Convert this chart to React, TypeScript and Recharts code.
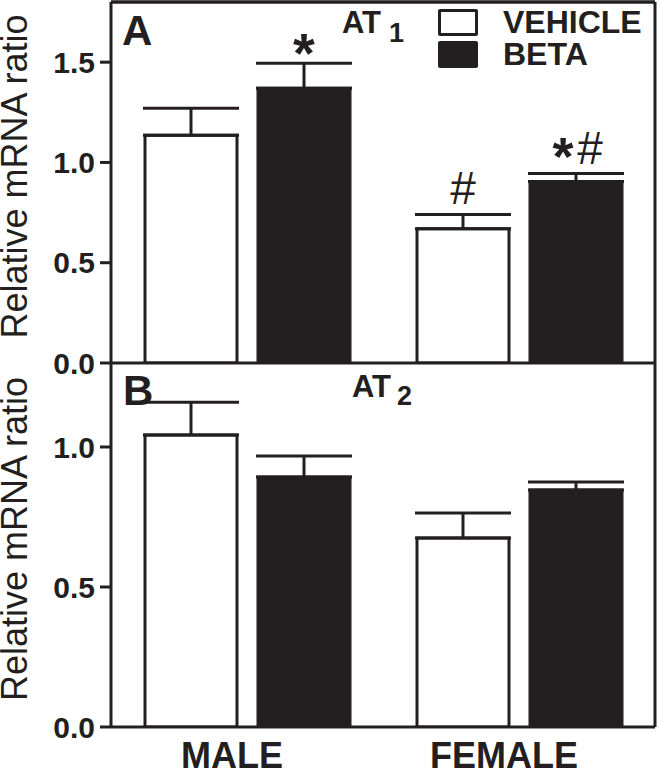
import { ComposedChart, Bar, Line, XAxis, YAxis, ErrorBar, LabelList, Legend, ReferenceLine } from 'recharts'

const groups = ['MALE', 'FEMALE']

// AT1 (panel A)
const at1Vehicle = [1.135, 0.67]
const at1VehicleErr = [0.135, 0.07]
const at1Beta = [1.37, 0.905]
const at1BetaErr = [0.125, 0.04]
const at1VehicleNote = ['', '#']
const at1BetaNote = ['*', '*#']
const at1Ticks = [0, 0.5, 1, 1.5]

// AT2 (panel B)
const at2Vehicle = [1.043, 0.675]
const at2VehicleErr = [0.117, 0.089]
const at2Beta = [0.893, 0.846]
const at2BetaErr = [0.075, 0.029]
const at2VehicleNote = ['', '']
const at2BetaNote = ['', '']
const at2Ticks = [0, 0.5, 1]

const legendOrder = ['VEHICLE', 'BETA']

const FONT = '"Liberation Sans", Arial, Helvetica, sans-serif'
const INK = '#231f20'

function buildRows(veh: number[], vehErr: number[], beta: number[], betaErr: number[], vehNote: string[], betaNote: string[]) {
  return groups.map((group, i) => ({
    group,
    vehicle: veh[i],
    vehicleErr: [0, vehErr[i]],
    vehicleCap: vehErr[i],
    vehicleNote: vehNote[i],
    beta: beta[i],
    betaErr: [0, betaErr[i]],
    betaCap: betaErr[i],
    betaNote: betaNote[i],
  }))
}

const at1Rows = buildRows(at1Vehicle, at1VehicleErr, at1Beta, at1BetaErr, at1VehicleNote, at1BetaNote)
const at2Rows = buildRows(at2Vehicle, at2VehicleErr, at2Beta, at2BetaErr, at2VehicleNote, at2BetaNote)

function NoteLabel(props: any) {
  const { x, y, width, value } = props
  if (!value) return null
  const cx = x + width / 2
  if (value === '*') {
    return (
      <text x={cx} y={y + 9} textAnchor="middle" fontSize={56} fontWeight="bold" fill={INK} fontFamily={FONT}>
        *
      </text>
    )
  }
  if (value === '#') {
    return (
      <text x={cx} y={y - 11} textAnchor="middle" fontSize={46} fill={INK} fontFamily={FONT}>
        #
      </text>
    )
  }
  return (
    <g fill={INK} fontFamily={FONT}>
      <text x={cx - 13} y={y + 2} textAnchor="middle" fontSize={54} fontWeight="bold">
        *
      </text>
      <text x={cx + 14} y={y - 9} textAnchor="middle" fontSize={46}>
        #
      </text>
    </g>
  )
}

function AxisTitle(props: any) {
  const { viewBox } = props
  const cx = viewBox.x + 27
  const cy = viewBox.y + viewBox.height / 2 - 6
  return (
    <text x={cx} y={cy} transform={`rotate(-90 ${cx} ${cy})`} textAnchor="middle" fontSize={36} fontFamily={FONT} fill={INK}>
      Relative mRNA ratio
    </text>
  )
}

function GroupTick(props: any) {
  const { x, y, payload } = props
  return (
    <text x={x - 15} y={y + 41} textAnchor="middle" fontSize={36} fontWeight="bold" fontFamily={FONT} fill={INK}>
      {payload.value}
    </text>
  )
}

function LegendBox(props: any) {
  const entries = legendOrder
    .map((name) => (props.payload || []).find((e: any) => e.value === name))
    .filter(Boolean)
  return (
    <div style={{ fontFamily: FONT }}>
      {entries.map((entry: any) => (
        <div key={entry.value} style={{ display: 'flex', alignItems: 'center', height: 32 }}>
          <div
            style={{
              width: 34,
              height: 21,
              border: `3px solid ${INK}`,
              borderRadius: 2,
              background: entry.color,
              marginRight: 25,
            }}
          />
          <span style={{ fontSize: 32, fontWeight: 'bold', color: INK, lineHeight: '29px' }}>{entry.value}</span>
        </div>
      ))}
    </div>
  )
}

interface PanelProps {
  rows: any[]
  domain: [number, number]
  ticks: number[]
  top: number
  height: number
  margin: { top: number; right: number; bottom: number; left: number }
  bottomPanel?: boolean
}

function Panel({ rows, domain, ticks, top, height, margin, bottomPanel }: PanelProps) {
  const axisLine = { stroke: INK, strokeWidth: 3 }
  return (
    <div style={{ position: 'absolute', top, left: 0 }}>
      <ComposedChart width={659} height={height} data={rows} margin={margin} barSize={92} barGap={21}>
        <XAxis
          dataKey="group"
          axisLine={axisLine}
          tickLine={false}
          tickSize={0}
          tickMargin={0}
          height={bottomPanel ? 44 : 1}
          tick={bottomPanel ? <GroupTick /> : false}
          interval={0}
        />
        <XAxis xAxisId="top" dataKey="group" orientation="top" height={1} tick={false} tickLine={false} axisLine={bottomPanel ? false : axisLine} />
        <YAxis
          type="number"
          domain={domain}
          ticks={ticks}
          allowDataOverflow
          width={111}
          axisLine={axisLine}
          tickLine={{ stroke: INK, strokeWidth: 3 }}
          tickSize={11}
          tickMargin={5}
          tickFormatter={(v) => v.toFixed(1)}
          tick={{ fill: INK, fontSize: 30, fontWeight: 'bold', fontFamily: FONT }}
          label={<AxisTitle />}
        />
        <YAxis
          yAxisId="right"
          type="number"
          orientation="right"
          domain={domain}
          allowDataOverflow
          width={1}
          tick={false}
          tickLine={false}
          axisLine={axisLine}
        />
        {!bottomPanel && <ReferenceLine y={domain[1]} stroke={INK} strokeWidth={3} ifOverflow="visible" />}
        {!bottomPanel && (
          <Legend
            layout="vertical"
            align="center"
            verticalAlign="middle"
            content={<LegendBox />}
            wrapperStyle={{ top: 6, left: 438, width: 'auto' }}
          />
        )}
        <Bar dataKey="vehicle" name="VEHICLE" stackId="v" fill="#ffffff" stroke={INK} strokeWidth={3} isAnimationActive={false}>
          <ErrorBar dataKey="vehicleErr" direction="y" width={48} stroke={INK} strokeWidth={3} isAnimationActive={false} />
        </Bar>
        <Bar dataKey="vehicleCap" stackId="v" fill="transparent" legendType="none" isAnimationActive={false}>
          <LabelList dataKey="vehicleNote" content={<NoteLabel />} />
        </Bar>
        <Bar dataKey="beta" name="BETA" stackId="b" fill={INK} stroke={INK} strokeWidth={3} isAnimationActive={false}>
          <ErrorBar dataKey="betaErr" direction="y" width={48} stroke={INK} strokeWidth={3} isAnimationActive={false} />
        </Bar>
        <Bar dataKey="betaCap" stackId="b" fill="transparent" legendType="none" isAnimationActive={false}>
          <LabelList dataKey="betaNote" content={<NoteLabel />} />
        </Bar>
        {/* invisible series so the frame axes (top / right) get drawn */}
        <Line
          xAxisId="top"
          yAxisId="right"
          dataKey="vehicle"
          stroke="none"
          dot={false}
          activeDot={false}
          legendType="none"
          isAnimationActive={false}
        />
      </ComposedChart>
    </div>
  )
}

export default function App() {
  return (
    <div style={{ position: 'absolute', top: 0, left: 0, width: 659, height: 771, background: '#fff', overflow: 'hidden' }}>
      <Panel rows={at1Rows} domain={[0, 1.8]} ticks={at1Ticks} top={0} height={380} margin={{ top: 1, right: 3, bottom: 16, left: 0 }} />
      <Panel
        rows={at2Rows}
        domain={[0, 1.3]}
        ticks={at2Ticks}
        top={340}
        height={431}
        margin={{ top: 22, right: 3, bottom: 0, left: 0 }}
        bottomPanel
      />
      <svg width={659} height={771} style={{ position: 'absolute', top: 0, left: 0, pointerEvents: 'none' }}>
        <g fill={INK} fontFamily={FONT} fontWeight="bold">
          <text x={122} y={45} fontSize={42}>A</text>
          <text x={123} y={405} fontSize={42}>B</text>
          <text x={342} y={33} fontSize={31}>
            AT<tspan dx={8} dy={9} fontSize={27}>1</tspan>
          </text>
          <text x={352} y={397} fontSize={31}>
            AT<tspan dx={6} dy={8} fontSize={27}>2</tspan>
          </text>
        </g>
      </svg>
    </div>
  )
}
